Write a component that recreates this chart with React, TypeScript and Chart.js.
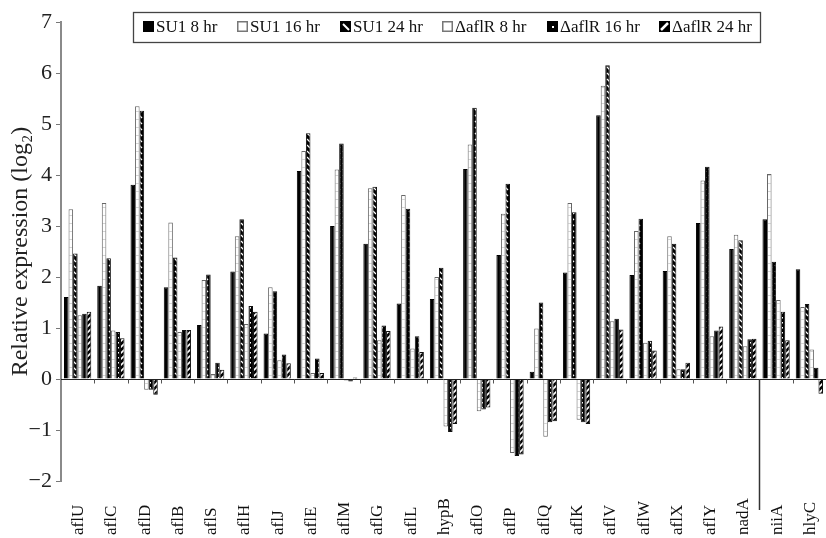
import React, { useEffect, useRef } from 'react';
import { Chart, registerables } from 'chart.js';

Chart.register(...registerables);

const CATEGORIES = ['aflU', 'aflC', 'aflD', 'aflB', 'aflS', 'aflH', 'aflJ', 'aflE', 'aflM', 'aflG', 'aflL', 'hypB', 'aflO', 'aflP', 'aflQ', 'aflK', 'aflV', 'aflW', 'aflX', 'aflY', 'nadA', 'niiA', 'hlyC'];

const SU1_8 = [1.61, 1.83, 3.81, 1.80, 1.06, 2.11, 0.89, 4.08, 3.00, 2.65, 1.48, 1.57, 4.12, 2.43, 0.14, 2.09, 5.17, 2.04, 2.12, 3.06, 2.55, 3.13, 2.15];
const SU1_16 = [3.33, 3.45, 5.35, 3.07, 1.94, 2.80, 1.80, 4.47, 4.11, 3.74, 3.61, 2.00, 4.60, 3.24, 0.99, 3.45, 5.75, 2.90, 2.80, 3.89, 2.83, 4.02, 1.41];
const SU1_24 = [2.46, 2.37, 5.26, 2.38, 2.05, 3.13, 1.72, 4.82, 4.62, 3.77, 3.34, 2.18, 5.32, 3.83, 1.50, 3.27, 6.15, 3.14, 2.65, 4.16, 2.72, 2.30, 1.47];
const DAFLR_8 = [1.25, 0.95, -0.21, 0.92, 0.10, 1.08, 0.37, 0.12, -0.03, 0.76, 0.60, -0.93, -0.63, -1.45, -1.13, -0.80, 1.13, 0.71, 0.19, 0.84, 0.64, 1.55, 0.58];
const DAFLR_16 = [1.28, 0.92, -0.21, 0.96, 0.32, 1.43, 0.48, 0.40, -0.05, 1.05, 0.84, -1.04, -0.60, -1.51, -0.85, -0.85, 1.18, 0.75, 0.19, 0.95, 0.78, 1.32, 0.22];
const DAFLR_24 = [1.32, 0.80, -0.31, 0.96, 0.18, 1.32, 0.31, 0.12, 0.03, 0.94, 0.53, -0.88, -0.56, -1.48, -0.83, -0.88, 0.97, 0.56, 0.32, 1.03, 0.79, 0.76, -0.29];

const SERIES_LABELS = ['SU1 8 hr', 'SU1 16 hr', 'SU1 24 hr', 'ΔaflR 8 hr', 'ΔaflR 16 hr', 'ΔaflR 24 hr'];
const Y_TICKS = [-2, -1, 0, 1, 2, 3, 4, 5, 6, 7];
const Y_TICK_LABELS = ['−2', '−1', '0', '1', '2', '3', '4', '5', '6', '7'];
const Y_TITLE = 'Relative expression (log₂)';
const SEPARATOR_AFTER = 'nadA';

const FONT = "'Liberation Serif', 'Times New Roman', serif";

function makePattern(w: number, h: number, draw: (c: CanvasRenderingContext2D) => void) {
  const cv = document.createElement('canvas');
  cv.width = w;
  cv.height = h;
  const c = cv.getContext('2d')!;
  draw(c);
  return c.createPattern(cv, 'repeat')!;
}

export default function App() {
  const ref = useRef<HTMLCanvasElement | null>(null);

  useEffect(() => {
    if (!ref.current) return;

    const whiteStripe = makePattern(4, 8, (c) => {
      c.fillStyle = '#fff';
      c.fillRect(0, 0, 4, 8);
      c.fillStyle = '#d4d4d4';
      c.fillRect(0, 7, 4, 1);
    });
    const su24 = makePattern(6, 6, (c) => {
      c.fillStyle = '#000';
      c.fillRect(0, 0, 6, 6);
      c.strokeStyle = '#fff';
      c.lineWidth = 1.3;
      c.beginPath();
      c.moveTo(1, 1);
      c.lineTo(4, 4);
      c.stroke();
    });
    const d16 = makePattern(4, 5, (c) => {
      c.fillStyle = '#000';
      c.fillRect(0, 0, 4, 5);
      c.fillStyle = '#fff';
      c.fillRect(2, 2, 1, 1.5);
    });
    const d24 = makePattern(6, 6, (c) => {
      c.fillStyle = '#000';
      c.fillRect(0, 0, 6, 6);
      c.strokeStyle = '#fff';
      c.lineWidth = 1.6;
      c.beginPath();
      c.moveTo(0, 6);
      c.lineTo(6, 0);
      c.moveTo(-1, 1);
      c.lineTo(1, -1);
      c.moveTo(5, 7);
      c.lineTo(7, 5);
      c.stroke();
    });

    const fills = ['#000', whiteStripe, su24, whiteStripe, d16, d24];
    const borders = ['#000', '#666', '#111', '#666', '#111', '#111'];
    const values = [SU1_8, SU1_16, SU1_24, DAFLR_8, DAFLR_16, DAFLR_24];

    const decor = {
      id: 'decor',
      afterDatasetsDraw(chart: any) {
        const { ctx, chartArea, scales } = chart;
        const xs = scales.x;
        const ys = scales.y;
        const y0 = Math.round(ys.getPixelForValue(0)) + 0.5;
        const half = (xs.getPixelForValue(1) - xs.getPixelForValue(0)) / 2;
        ctx.save();
        // zero line
        ctx.strokeStyle = '#222';
        ctx.lineWidth = 1;
        ctx.beginPath();
        ctx.moveTo(chartArea.left, y0);
        ctx.lineTo(chartArea.right, y0);
        ctx.stroke();
        // boundary ticks
        ctx.strokeStyle = '#555';
        for (let i = 1; i <= CATEGORIES.length; i++) {
          const bx = Math.round(xs.getPixelForValue(i - 1) + half) + 0.5;
          ctx.beginPath();
          ctx.moveTo(bx, y0);
          ctx.lineTo(bx, y0 + 4);
          ctx.stroke();
        }
        // separator
        const idx = CATEGORIES.indexOf(SEPARATOR_AFTER);
        const sx = Math.round(xs.getPixelForValue(idx) + half) + 0.5;
        ctx.strokeStyle = '#333';
        ctx.lineWidth = 1.5;
        ctx.beginPath();
        ctx.moveTo(sx, y0);
        ctx.lineTo(sx, chartArea.bottom + 29);
        ctx.stroke();
        // x labels
        ctx.fillStyle = '#111';
        ctx.font = `17px ${FONT}`;
        ctx.textAlign = 'left';
        ctx.textBaseline = 'middle';
        CATEGORIES.forEach((lab, i) => {
          const cx = xs.getPixelForValue(i);
          ctx.save();
          ctx.translate(cx + 1, 535);
          ctx.rotate(-Math.PI / 2);
          ctx.fillText(lab, 0, 0);
          ctx.restore();
        });
        // legend
        const lx = 133, ly = 12, lw = 627, lh = 30;
        ctx.fillStyle = '#fff';
        ctx.fillRect(lx, ly, lw, lh);
        ctx.strokeStyle = '#444';
        ctx.lineWidth = 1.3;
        ctx.strokeRect(lx + 0.5, ly + 0.5, lw, lh);
        const sq = 11;
        const sy = 21;
        ctx.font = `17px ${FONT}`;
        const widths = SERIES_LABELS.map((l) => ctx.measureText(l).width);
        const startX = 143;
        const endX = 752;
        const used = widths.reduce((a, w) => a + sq + 2 + w, 0);
        const gap = (endX - startX - used) / (SERIES_LABELS.length - 1);
        let x = startX;
        SERIES_LABELS.forEach((lab, i) => {
          const x0 = Math.round(x);
          if (i === 1 || i === 3) {
            ctx.fillStyle = '#fff';
            ctx.fillRect(x0, sy, sq, sq);
            ctx.strokeStyle = '#777';
            ctx.lineWidth = 1.5;
            ctx.strokeRect(x0 + 0.75, sy + 0.75, sq - 1.5, sq - 1.5);
          } else {
            ctx.fillStyle = '#000';
            ctx.fillRect(x0, sy, sq, sq);
            ctx.strokeStyle = '#fff';
            if (i === 2) {
              ctx.lineWidth = 2;
              ctx.beginPath();
              ctx.moveTo(x0 + 3, sy + 3);
              ctx.lineTo(x0 + 9, sy + 9);
              ctx.stroke();
            } else if (i === 4) {
              ctx.fillStyle = '#fff';
              ctx.fillRect(x0 + 5, sy + 5, 2, 2);
            } else if (i === 5) {
              ctx.lineWidth = 2.5;
              ctx.beginPath();
              ctx.moveTo(x0 + 2, sy + 9);
              ctx.lineTo(x0 + 9, sy + 2);
              ctx.stroke();
            }
          }
          ctx.fillStyle = '#111';
          ctx.textAlign = 'left';
          ctx.textBaseline = 'middle';
          ctx.fillText(lab, x0 + sq + 2, sy + sq / 2 + 1);
          x += sq + 2 + widths[i] + gap;
        });
        ctx.restore();
      },
    };

    const chart = new Chart(ref.current, {
      type: 'bar',
      data: {
        labels: CATEGORIES,
        datasets: SERIES_LABELS.map((lab, i) => ({
          label: lab,
          data: values[i],
          backgroundColor: fills[i] as any,
          borderColor: borders[i],
          borderWidth: 1,
          categoryPercentage: 0.82,
          barPercentage: 1.0,
        })),
      },
      options: {
        animation: false,
        responsive: true,
        maintainAspectRatio: false,
        layout: { padding: { top: 22, right: 0, left: 0, bottom: 0 } },
        plugins: {
          legend: { display: false },
          tooltip: { enabled: false },
        },
        scales: {
          x: {
            type: 'category',
            offset: true,
            grid: { display: false },
            border: { display: false },
            ticks: { display: false },
            afterFit: (s: any) => {
              s.height = 57;
            },
          },
          y: {
            min: -2,
            max: 7,
            afterFit: (s: any) => {
              s.width = 61;
            },
            afterBuildTicks: (s: any) => {
              s.ticks = Y_TICKS.map((v) => ({ value: v }));
            },
            ticks: {
              font: { family: FONT, size: 22 },
              color: '#222',
              padding: 4,
              callback: (v: any) => {
                const k = Y_TICKS.indexOf(Number(v));
                return k >= 0 ? Y_TICK_LABELS[k] : '';
              },
            },
            grid: { drawOnChartArea: false, drawTicks: true, tickLength: 5, color: '#777' },
            border: { display: true, color: '#8a8a8a', width: 2 },
            title: {
              display: true,
              text: Y_TITLE,
              font: { family: FONT, size: 24 },
              color: '#222',
              padding: { top: 6, bottom: 0 },
            },
          },
        },
      },
      plugins: [decor],
    });

    return () => chart.destroy();
  }, []);

  return (
    <div style={{ position: 'absolute', left: 0, top: 0, width: 826, height: 538, background: '#fff' }}>
      <canvas ref={ref} />
    </div>
  );
}
